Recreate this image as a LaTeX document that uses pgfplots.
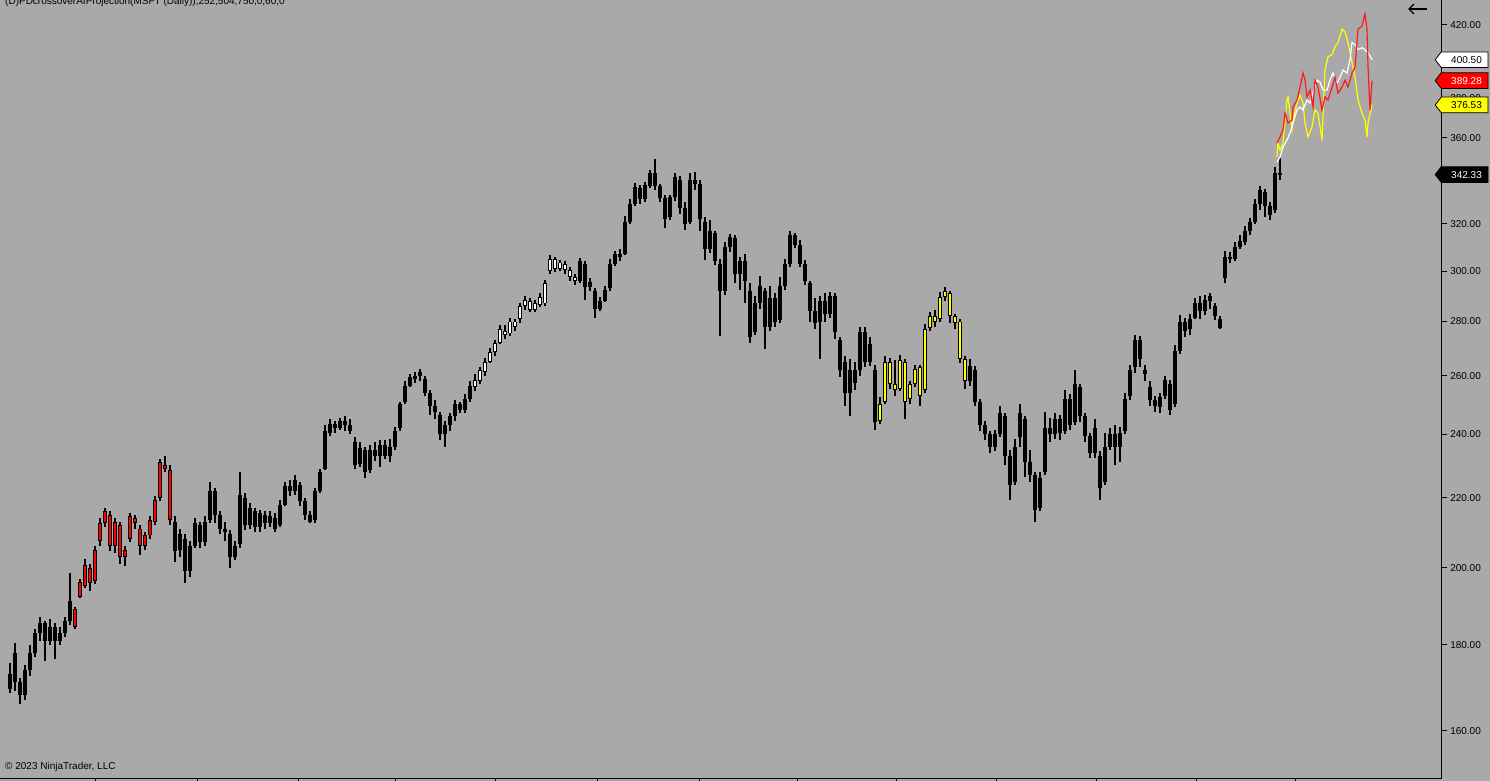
\documentclass[border=0pt]{standalone}
\usepackage{pgfplots}
\pgfplotsset{compat=1.18}
\usepackage{pgfplotstable}
\usepackage{fontspec}
\setmainfont{Liberation Sans}
\usetikzlibrary{arrows.meta}

\definecolor{chartbg}{RGB}{169,169,169}
\definecolor{candred}{RGB}{255,0,0}
\definecolor{candyel}{RGB}{255,255,0}
\definecolor{projred}{RGB}{255,25,25}
\definecolor{projyel}{RGB}{255,255,0}

% daily bars: index, open, high, low, close, colour (0 black, 1 white, 2 red, 3 yellow)
\pgfplotstableread{
i o h l c t
0 169.5 175.5 168.5 173 0
1 178 180.5 169 171 0
2 171 172 166 168 0
3 168 175 167 174 0
4 174 180 172.5 178 0
5 178 184 177 183 0
6 183 187 181 185.5 0
7 185.5 186 176 181 0
8 181 186.5 180 184.5 0
9 184.5 185.5 176.5 181 0
10 181 184.5 180 183 0
11 183 187 182 186 0
12 186 198.5 185 191 0
13 189 189.5 184 184.5 2
14 192.2 197 191.8 196.2 2
15 195 202.5 194.5 200.6 2
16 200 201 193.7 196 2
17 196.5 206 195.5 205 2
18 207.5 214 206 212.5 2
19 212.5 217 211.5 216 2
20 215 216 204.5 206 2
21 206 214 204 213 2
22 212 213 201 203 2
23 203 206 200.5 205 2
24 208 215.5 207 214.5 2
25 214 215 211 212.5 2
26 211 212 203.5 206 2
27 206 210 205 209 2
28 209 214.5 208 213.5 2
29 213 220.5 212 219.5 2
30 220 232 219 231 2
31 230 233 228 229 2
32 228.5 230 212 213.5 2
33 213 214.5 201.5 204.5 0
34 205 211 203 209.5 0
35 208 209.5 196 199 0
36 199 207.5 197.5 206 0
37 206 214 205.5 212.5 0
38 212 213 205.5 207 0
39 207 214.5 206 213 0
40 213.5 225 212.5 222 0
41 222 223 212.5 215 0
42 215 216 209.5 211 0
43 211 213 207.5 210 0
44 209.5 210.5 200 203 0
45 203 207.5 202 206 0
46 206.5 228 205.5 221 0
47 220 221.5 210.5 212 0
48 212 218.5 211 217 0
49 216 217 210 211.5 0
50 211.5 216.5 210 215.5 0
51 215 216 211 212.5 0
52 212.5 216 211.5 214.5 0
53 214 215.5 210 211 0
54 212 219.5 211.5 218 0
55 218 225 217.5 223.5 0
56 223.5 225.5 220.5 222 0
57 222 227 221 225.5 0
58 224 225 217.5 219 0
59 219 220 213.5 215 0
60 215 216 212.5 213 0
61 213.5 223 212.5 222 0
62 222 229 221.5 228 0
63 229 243 228.5 241 0
64 240.5 245 239.5 243.5 0
65 243.5 244.5 240.5 242 0
66 242 245.5 241.5 244.5 0
67 244.5 246 241 243 0
68 243 245 240 241 0
69 237.5 239 229 230 0
70 230.5 237.5 229.5 235.5 0
71 235 236 226 228 0
72 228.5 236.5 227.5 235 0
73 235 237.5 231.5 233 0
74 233 238 229.5 236.5 0
75 236.5 238 232 233 0
76 233 238.5 231 236 0
77 236 242.5 235 241 0
78 242 251 241 250 0
79 251 258 250 256.5 0
80 256.5 260.5 256 259.5 0
81 259 261.5 257.5 260 0
82 260 262.5 258 261.5 0
83 259 260 253 254 0
84 254 255 246.5 249.5 0
85 249.5 251.5 245 247.5 0
86 246.5 247.5 238 240 0
87 240 244.5 236 243 0
88 243 247 241 246 0
89 246 251.5 244.5 250 0
90 250 251 247 248 0
91 248 253.5 247 252 0
92 252 258 251 256.5 0
93 256 260.5 254.5 258.5 1
94 258 263 257 262 1
95 261.5 266.5 260 265 1
96 265 270 264.5 268.5 1
97 268.5 273 267 272 1
98 272 278.5 271.5 277 1
99 276.5 278.5 273.5 275 1
100 275.5 281.5 274.5 280 1
101 280 281 276.5 278 1
102 281 287 279.5 286 1
103 286 290 284.5 288.5 1
104 288 289 283.5 284.5 1
105 284.5 288.5 283.5 287 1
106 286.5 291 285.5 289.5 1
107 287 296.5 286 295 1
108 300 306.5 299 305 1
109 305 306 299.5 301 1
110 301 304.5 300 303.5 1
111 303 304 299 300.5 1
112 300.5 301.5 296 297.5 1
113 297.5 299 294.5 296 1
114 296 305.5 295 304 0
115 303 304 288.5 293.5 0
116 293.5 297 292 295.5 0
117 292 293 281.5 285 0
118 285 289.5 284 288 0
119 288 294 287.5 292.5 0
120 293 305 292 303 0
121 303 308.5 302 307 0
122 307 309 304 306 0
123 307 323.5 306.5 321 0
124 321 331 320 329 0
125 329 338.5 328 336.5 0
126 336 337.5 329 331 0
127 331 339 329.5 337.5 0
128 337 344.5 336 343 0
129 343 349.5 335 337 0
130 337 338 329.5 331.5 0
131 331.5 333 318 322 0
132 323 333 321.5 332 0
133 332 343 330 341 0
134 340 341.5 324.5 327 0
135 327 329.5 317.5 320 0
136 321 343 320 340 0
137 340 343.5 335 338 0
138 338 340 317 322 0
139 321 323 304.5 309 0
140 309 321.5 307.5 317 0
141 316 317 302.5 304 0
142 303 305 274.5 292 0
143 292 312 290.5 310 0
144 310 315.5 308 314.5 0
145 314 315 295 299 0
146 299 306 292.5 304 0
147 304 307 287 296 0
148 292 295 272 274 0
149 276 290 275 287 0
150 287 298 285 294 0
151 292 293 269.5 278 0
152 278 294 276.5 289 0
153 289 291 278 280 0
154 280.5 297.5 279.5 294 0
155 294 305 292.5 303 0
156 303 317 301.5 315 0
157 315 316 309.5 311 0
158 311 313 301.5 303 0
159 303 304.5 294.5 296 0
160 295 296 280 284 0
161 284 289 277 279.5 0
162 280 290 266 288 0
163 288 291 280 283 0
164 283 291.5 281.5 290 0
165 290 291 273.5 276 0
166 273 274 259.5 262 0
167 265 267 249.5 254 0
168 254 266 246 262 0
169 262 265 255 257.5 0
170 262 278 260 276 0
171 276 278 263 265 0
172 265 274 263.5 271.5 0
173 262 264 241.5 244 0
174 244.5 252.5 243.5 250 3
175 251 267 250 265 3
176 265 266.5 255.5 257 3
177 257 265.5 253 255 3
178 255.5 267.5 254.5 265.5 3
179 265 266 245 251 3
180 252 258 250 257 3
181 257 264 256 262.5 3
182 263 264 249.5 253 3
183 255 279 254 277 3
184 277.5 283.5 276.5 282 3
185 282 284.5 278 280 3
186 281 291.5 280 289.5 3
187 289.5 293.5 288 292 3
188 291 292 279.5 282 3
189 282 283 277 279.5 3
190 280 281 264.5 266 3
191 266 267 255.5 258 3
192 258 266 256.5 263.5 0
193 262 263.5 249.5 251 0
194 251 252 241 243 0
195 243 244.5 238 240 0
196 240 241 234 236 0
197 236 241.5 234.5 240 0
198 240 249.5 239 247 0
199 246 247 230 233 0
200 233 235 219.5 224 0
201 225 238.5 224 236 0
202 239 250 236 247 0
203 245 246 226.5 231 0
204 231 235 225 227 0
205 227 228 213 216.5 0
206 217 228 216 226 0
207 228 247.5 227 242 0
208 242 245.5 237.5 240 0
209 240 247 238.5 245 0
210 245 246.5 238 240.5 0
211 241 255 240 252 0
212 252 253.5 241.5 243 0
213 244 262 243 257 0
214 256 257 244 246 0
215 246 247 237.5 239.5 0
216 239.5 240.5 232.5 234 0
217 234 245 232.5 242 0
218 233 234.5 219.5 223 0
219 225 240.5 224 236 0
220 236 242 235 240 0
221 240 243 230 236 0
222 236 242.5 231 240.5 0
223 241 254 240 252 0
224 253 264 251.5 262 0
225 263 275 261 273 0
226 273 274.5 263 266 0
227 262 264 258 260.5 0
228 256 258 249.5 251.5 0
229 251.5 253 247.5 249.5 0
230 249 254 247 252.5 0
231 253 260 252 258.5 0
232 257 258.5 246.5 248 0
233 250 271 249 269 0
234 269 282.5 268 280 0
235 280 281.5 274 276.5 0
236 277 283 275 281 0
237 281.5 289 281 287 0
238 287 290 281 284 0
239 284 290.5 282.5 288.5 0
240 288 291 285 290 0
241 286 287 280.5 282 0
242 281 282 277 277.5 0
243 297 308.5 295 306 0
244 306 308 303.5 305 0
245 305 312 304 310 0
246 310 315 309 312.5 0
247 312 319 311 317 0
248 317 322.5 315 321 0
249 321 331 320 329 0
250 329 337 326 335 0
251 334 335.5 323 328 0
252 328 329.5 321.5 324 0
253 326 346 325 343 0
254 343 350 340 342.33 0
}\bars

% projected paths
\pgfplotstableread{
i p
253.4 350.6
253.6 357.4
254.0 354.0
254.6 357.4
255.4 379.0
255.6 380.6
256.0 372.3
256.4 363.8
256.6 368.8
257.4 377.5
258.0 381.6
258.6 377.5
259.0 367.3
259.6 360.4
260.4 365.3
261.0 373.9
261.6 372.3
262.4 358.9
263.0 394.9
263.6 402.1
264.4 403.2
265.0 407.7
265.6 410.0
266.4 417.6
267.0 415.9
267.6 410.0
268.4 398.9
269.0 391.1
269.6 379.0
270.4 372.3
271.0 368.8
271.4 360.4
271.6 367.3
272.4 376.53
}\projY

\pgfplotstableread{
i p
253.4 357.4
254.0 360.4
254.6 363.8
255.0 372.3
255.6 367.3
256.4 368.8
256.6 375.4
257.4 379.0
258.0 385.8
258.6 393.3
259.0 389.5
259.4 380.6
260.0 384.2
260.6 375.4
261.0 389.5
261.6 385.8
262.4 373.9
263.0 380.6
263.6 379.0
264.4 385.8
265.0 391.1
265.6 382.6
266.4 385.8
267.0 389.5
267.6 385.8
268.4 393.3
269.0 396.5
269.6 417.6
270.4 419.3
271.0 426.3
271.4 417.6
271.6 396.5
272.0 373.9
272.4 389.28
}\projR

\pgfplotstableread{
i p
253.4 348.2
254.0 350.6
254.6 355.5
255.4 358.9
256.0 362.3
256.6 367.3
257.4 373.9
258.0 375.4
258.6 373.9
259.4 379.0
260.0 377.5
260.6 382.6
261.4 389.5
262.0 388.4
262.6 384.2
263.4 384.2
264.0 389.5
264.6 393.3
265.4 387.9
266.0 391.1
266.6 394.9
267.4 393.3
268.0 400.5
268.4 410.0
269.0 408.8
269.6 406.0
270.4 407.1
271.0 406.0
271.6 404.3
272.4 400.5
}\projW

% price tag at the right axis: #1 coordinate name, #2 fill, #3 text colour, #4 text
\newcommand{\pricetag}[4]{%
  \draw[line width=0.8pt, draw=black, fill=#2]
    ([xshift=-6.5pt]#1) -- ([xshift=-0.5pt,yshift=7.8pt]#1) -- ([xshift=46.3pt,yshift=7.8pt]#1)
    -- ([xshift=46.3pt,yshift=-7.8pt]#1) -- ([xshift=-0.5pt,yshift=-7.8pt]#1) -- cycle;
  \node[anchor=east, text=#3, font=\fontsize{10}{12}\selectfont, inner sep=0pt] at ([xshift=40.3pt]#1) {#4};
}

\begin{document}
\begin{tikzpicture}
\fill[chartbg] (0pt,0pt) rectangle (1490pt,781pt);
\begin{axis}[
  at={(0pt,2pt)}, anchor=south west,
  scale only axis, width=1441.7pt, height=779pt,
  ymode=log, ymin=149.84, ymax=434.57,
  xmin=-2, xmax=286.34,
  axis x line*=bottom, axis y line*=right,
  axis line style={line width=1pt, black},
  tick align=outside, major tick length=5pt,
  tick style={black, line width=1pt},
  ytick={160,180,200,220,240,260,280,300,320,340,360,380,400,420},
  yticklabels={160.00,180.00,200.00,220.00,240.00,260.00,280.00,300.00,320.00,340.00,360.00,380.00,400.00,420.00},
  yticklabel style={font=\fontsize{10}{12}\selectfont, text=black},
  minor ytick={},
  xtick={17,37.4,57.6,77,97,117.4,137.8,157.4,177.2,197.2,217.2,237.2,257},
  xticklabels={},
]
% wicks
\addplot[draw=none, mark=none, forget plot,
  error bars/.cd, y dir=plus, y explicit, error mark=none,
  error bar style={draw=black, line width=1.2pt, line cap=butt}]
  table[x=i, y=l, y error plus expr={\thisrow{h}-\thisrow{l}}] {\bars};
% bodies
\addplot[draw=none, mark=none, forget plot,
  error bars/.cd, y dir=plus, y explicit, error mark=none,
  error bar style={draw=black, line width=4.2pt, line cap=butt}]
  table[x=i, y expr={min(\thisrow{o},\thisrow{c})}, y error plus expr={abs(\thisrow{c}-\thisrow{o})}] {\bars};
% hollow fills
\addplot[draw=none, mark=none, forget plot,
  restrict expr to domain={\thisrow{t}}{1:1},
  error bars/.cd, y dir=plus, y explicit, error mark=none,
  error bar style={draw=white, line width=2.3pt, line cap=butt, shorten <=0.9pt, shorten >=0.9pt}]
  table[x=i, y expr={min(\thisrow{o},\thisrow{c})}, y error plus expr={abs(\thisrow{c}-\thisrow{o})}] {\bars};
\addplot[draw=none, mark=none, forget plot,
  restrict expr to domain={\thisrow{t}}{2:2},
  error bars/.cd, y dir=plus, y explicit, error mark=none,
  error bar style={draw=candred, line width=2.3pt, line cap=butt, shorten <=0.9pt, shorten >=0.9pt}]
  table[x=i, y expr={min(\thisrow{o},\thisrow{c})}, y error plus expr={abs(\thisrow{c}-\thisrow{o})}] {\bars};
\addplot[draw=none, mark=none, forget plot,
  restrict expr to domain={\thisrow{t}}{3:3},
  error bars/.cd, y dir=plus, y explicit, error mark=none,
  error bar style={draw=candyel, line width=2.3pt, line cap=butt, shorten <=0.9pt, shorten >=0.9pt}]
  table[x=i, y expr={min(\thisrow{o},\thisrow{c})}, y error plus expr={abs(\thisrow{c}-\thisrow{o})}] {\bars};
% projections
\addplot[projyel, line width=1.2pt, mark=none] table[x=i, y=p] {\projY};
\addplot[white, line width=1.2pt, mark=none] table[x=i, y=p] {\projW};
\addplot[projred, line width=1.2pt, mark=none] table[x=i, y=p] {\projR};

\coordinate (tagW) at (axis cs:286.34,400.50);
\coordinate (tagR) at (axis cs:286.34,389.28);
\coordinate (tagY) at (axis cs:286.34,376.53);
\coordinate (tagK) at (axis cs:286.34,342.33);
\end{axis}

\pricetag{tagW}{white}{black}{400.50}
\pricetag{tagR}{candred}{white}{389.28}
\pricetag{tagY}{candyel}{black}{376.53}
\pricetag{tagK}{black}{white}{342.33}

\node[anchor=base west, font=\fontsize{10}{12}\selectfont, inner sep=0pt] at (5pt,776.5pt)
  {(D)PDcrossoverAIProjection(MSFT (Daily)),252,504,750,0,60,0};
\node[anchor=base west, font=\fontsize{10}{12}\selectfont, inner sep=0pt] at (5pt,11pt)
  {© 2023 NinjaTrader, LLC};
\draw[line width=1.3pt, -{Straight Barb[length=5pt, width=10pt]}] (1427pt,772pt) -- (1408pt,772pt);
\pgfresetboundingbox
\path (0pt,0pt) rectangle (1490pt,781pt);
\end{tikzpicture}
\end{document}
